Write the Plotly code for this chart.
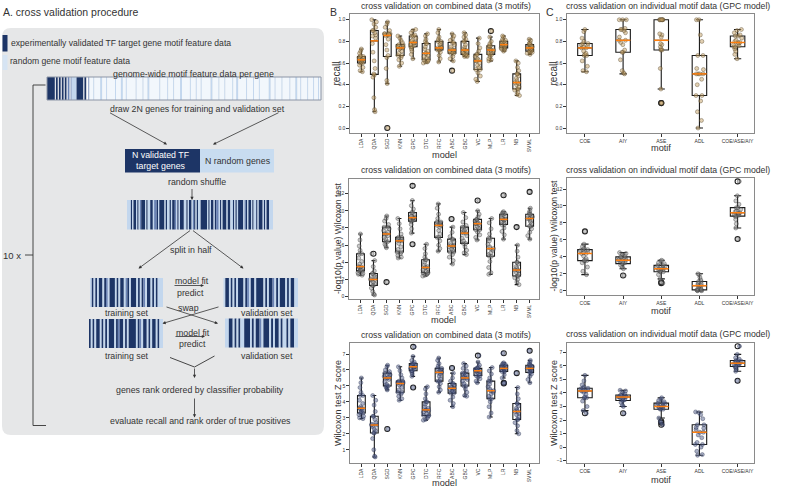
import plotly.graph_objects as go
import numpy as np

W, H = 787, 503
def X(p): return p / W
def Y(p): return 1 - p / H

FONT = "Liberation Sans, Arial, sans-serif"
TXT = "#333333"

# ---------------- data ----------------
models = ["LDA", "QDA", "SGD", "KNN", "GPC", "DTC", "RFC", "ABC", "GBC", "VC", "MLP", "LR", "NB", "SVML"]
motifs = ["COE", "AIY", "ASE", "ADL", "COE/ASE/AIY"]

recall_models = [
    [0.52,0.53,0.56,0.58,0.60,0.60,0.61,0.62,0.62,0.63,0.63,0.64,0.64,0.65,0.66,0.66,0.67,0.69,0.71,0.73],
    [0.15,0.17,0.28,0.47,0.49,0.50,0.55,0.62,0.70,0.78,0.83,0.85,0.86,0.88,0.90,0.90,0.93,0.96,0.98,1.00],
    [0.00,0.41,0.44,0.55,0.65,0.67,0.72,0.77,0.82,0.85,0.86,0.86,0.87,0.87,0.87,0.87,0.90,0.93,0.96,0.98],
    [0.57,0.60,0.63,0.65,0.67,0.67,0.69,0.71,0.73,0.74,0.74,0.75,0.75,0.76,0.77,0.77,0.79,0.81,0.83,0.85],
    [0.64,0.68,0.71,0.73,0.75,0.75,0.76,0.77,0.78,0.79,0.79,0.80,0.81,0.83,0.85,0.85,0.86,0.88,0.90,0.91],
    [0.60,0.61,0.61,0.62,0.63,0.63,0.65,0.66,0.67,0.69,0.69,0.71,0.73,0.75,0.78,0.78,0.80,0.82,0.85,0.87],
    [0.61,0.64,0.67,0.70,0.72,0.72,0.73,0.73,0.74,0.74,0.74,0.75,0.77,0.78,0.80,0.80,0.82,0.84,0.88,0.91],
    [0.53,0.62,0.64,0.66,0.69,0.69,0.70,0.70,0.71,0.72,0.72,0.73,0.75,0.77,0.79,0.79,0.81,0.83,0.85,0.87],
    [0.66,0.66,0.67,0.67,0.68,0.68,0.69,0.70,0.71,0.72,0.72,0.73,0.75,0.77,0.80,0.80,0.82,0.84,0.86,0.88],
    [0.43,0.45,0.48,0.51,0.54,0.54,0.56,0.58,0.60,0.62,0.62,0.63,0.64,0.66,0.68,0.68,0.71,0.74,0.78,0.83],
    [0.62,0.63,0.64,0.66,0.68,0.68,0.69,0.70,0.71,0.72,0.72,0.73,0.74,0.75,0.76,0.76,0.78,0.80,0.84,0.895],
    [0.71,0.72,0.73,0.73,0.74,0.74,0.75,0.76,0.76,0.77,0.77,0.77,0.78,0.79,0.80,0.80,0.81,0.82,0.84,0.85],
    [0.30,0.31,0.33,0.35,0.36,0.36,0.38,0.40,0.41,0.42,0.42,0.44,0.46,0.48,0.50,0.50,0.53,0.56,0.60,0.62],
    [0.68,0.69,0.70,0.70,0.71,0.71,0.72,0.73,0.73,0.74,0.74,0.75,0.75,0.76,0.77,0.77,0.78,0.79,0.81,0.82],
]

logp_models = [
    [2.5,2.6,2.7,2.8,3.0,3.0,3.1,3.2,3.4,3.5,3.5,3.8,4.1,4.5,5.0,5.0,5.4,5.9,6.6,7.3],
    [0.2,0.3,0.6,1.0,1.3,1.3,1.5,1.7,1.9,2.0,2.0,2.1,2.3,2.5,2.7,2.7,3.0,3.5,4.2,5.0],
    [1.7,5.7,5.9,6.1,6.4,6.4,6.7,6.9,7.1,7.3,7.3,7.5,7.7,7.9,8.1,8.1,8.4,8.8,9.1,9.4],
    [4.5,4.6,4.8,5.0,5.2,5.2,5.5,5.8,6.2,6.5,6.5,6.6,6.7,6.8,6.9,6.9,7.3,7.9,8.5,9.1],
    [6.1,7.4,7.9,8.4,8.8,8.8,8.9,9.0,9.1,9.2,9.2,9.3,9.4,9.6,9.8,9.8,10.2,10.6,11.2,12.9],
    [2.4,2.5,2.6,2.7,2.8,2.8,2.9,3.1,3.3,3.4,3.4,3.5,3.7,4.0,4.3,4.3,4.6,5.0,5.6,6.1],
    [5.3,5.6,6.0,6.5,6.9,6.9,7.3,7.7,8.1,8.3,8.3,8.4,8.5,8.6,8.7,8.7,9.1,9.6,10.3,10.8],
    [3.8,4.2,4.6,4.9,5.2,5.2,5.4,5.6,5.8,5.9,5.9,6.0,6.2,6.4,6.7,6.7,7.0,7.5,8.1,9.05],
    [4.9,5.1,5.4,5.8,6.2,6.2,6.5,6.8,7.1,7.4,7.4,7.5,7.7,7.9,8.1,8.1,8.3,8.7,9.2,9.8],
    [6.6,6.9,7.2,7.5,7.8,7.8,8.0,8.2,8.4,8.5,8.5,8.6,8.7,8.8,9.0,9.0,9.3,9.6,10.0,11.2],
    [2.6,2.8,3.4,4.1,4.7,4.7,4.9,5.1,5.4,5.6,5.6,5.8,6.1,6.5,6.8,6.8,7.3,7.9,8.6,9.1],
    [6.7,7.2,7.6,8.0,8.4,8.4,8.6,8.7,8.9,9.0,9.0,9.1,9.2,9.4,9.6,9.6,9.7,9.8,9.9,11.8],
    [1.4,1.7,2.0,2.2,2.4,2.4,2.6,2.8,3.0,3.1,3.1,3.3,3.5,3.8,4.0,4.0,4.6,5.3,6.0,8.1],
    [6.7,7.1,7.5,7.9,8.2,8.2,8.5,8.7,8.9,9.1,9.1,9.2,9.3,9.4,9.6,9.6,9.8,10.0,10.3,12.2],
]

zscore_models = [
    [2.95,3.0,3.1,3.2,3.3,3.3,3.4,3.5,3.55,3.6,3.6,3.7,3.9,4.1,4.4,4.4,4.6,4.9,5.2,5.5],
    [0.55,0.6,1.0,1.7,2.05,2.05,2.2,2.3,2.45,2.55,2.55,2.6,2.7,2.9,3.1,3.1,3.4,3.8,4.1,4.4],
    [2.3,4.75,4.85,4.95,5.0,5.0,5.1,5.25,5.4,5.5,5.5,5.55,5.6,5.7,5.8,5.8,5.9,6.0,6.2,6.3],
    [4.1,4.2,4.35,4.5,4.6,4.6,4.75,4.9,5.05,5.15,5.15,5.2,5.22,5.25,5.3,5.3,5.5,5.7,5.95,6.2],
    [4.9,5.6,5.75,5.85,5.95,5.95,6.05,6.1,6.15,6.2,6.2,6.25,6.3,6.35,6.4,6.4,6.5,6.6,6.85,7.45],
    [2.85,2.9,3.0,3.1,3.15,3.15,3.25,3.35,3.45,3.5,3.5,3.6,3.7,3.85,4.0,4.0,4.2,4.5,4.8,4.95],
    [4.6,4.75,4.95,5.15,5.3,5.3,5.45,5.6,5.75,5.85,5.85,5.9,5.95,6.0,6.1,6.1,6.25,6.4,6.6,6.75],
    [3.7,3.9,4.1,4.3,4.55,4.55,4.65,4.72,4.8,4.85,4.85,4.9,4.95,5.05,5.15,5.15,5.3,5.5,5.8,6.12],
    [4.35,4.4,4.6,4.8,5.0,5.0,5.15,5.3,5.4,5.5,5.5,5.55,5.6,5.7,5.8,5.8,5.95,6.1,6.25,6.4],
    [5.2,5.3,5.45,5.55,5.65,5.65,5.75,5.85,5.9,5.95,5.95,6.0,6.02,6.05,6.1,6.1,6.2,6.3,6.5,6.9],
    [3.05,3.3,3.7,4.0,4.2,4.2,4.35,4.5,4.6,4.7,4.7,4.8,4.95,5.1,5.3,5.3,5.5,5.75,5.95,6.15],
    [5.15,5.2,5.5,5.7,5.9,5.9,5.95,6.0,6.05,6.1,6.1,6.15,6.2,6.25,6.3,6.3,6.35,6.4,6.45,7.05],
    [2.0,2.2,2.5,2.7,2.9,2.9,3.05,3.2,3.3,3.4,3.4,3.5,3.6,3.75,3.9,3.9,4.2,4.5,4.9,5.8],
    [5.2,5.4,5.6,5.75,5.85,5.85,5.95,6.0,6.05,6.1,6.1,6.15,6.2,6.25,6.3,6.3,6.4,6.5,6.6,7.2],
]

recall_motifs = [
    [0.52,0.53,0.57,0.62,0.67,0.67,0.68,0.69,0.71,0.74,0.74,0.75,0.76,0.77,0.78,0.78,0.80,0.83,0.89,0.91],
    [0.50,0.51,0.53,0.63,0.70,0.70,0.72,0.77,0.79,0.81,0.81,0.84,0.88,0.90,0.91,0.91,0.92,1.0,1.0,1.0],
    [0.23,0.23,0.36,0.55,0.72,0.72,0.73,0.75,0.77,0.78,0.84,0.86,0.87,1.0,1.0,1.0,1.0,1.0,1.0,1.0],
    [0.0,0.07,0.15,0.25,0.30,0.30,0.40,0.45,0.50,0.50,0.50,0.50,0.54,0.55,0.67,0.67,0.80,0.86,1.0,1.0],
    [0.64,0.68,0.71,0.73,0.75,0.75,0.76,0.77,0.78,0.79,0.79,0.80,0.81,0.83,0.85,0.85,0.86,0.88,0.90,0.91],
]

logp_motifs = [
    [1.9,2.3,2.8,3.3,3.55,3.55,3.6,3.8,4.1,4.4,4.4,4.5,4.6,4.75,4.85,4.85,5.0,5.2,5.5,7.0],
    [1.8,2.6,2.8,3.0,3.2,3.2,3.3,3.4,3.5,3.6,3.6,3.7,3.8,3.9,4.0,4.0,4.1,4.3,4.4,4.5],
    [0.9,1.0,1.4,1.9,2.25,2.25,2.35,2.45,2.55,2.6,2.6,2.7,2.8,2.9,3.0,3.0,3.2,3.3,3.5,3.6],
    [0.0,0.0,0.05,0.08,0.1,0.1,0.2,0.3,0.45,0.6,0.6,0.7,0.8,0.9,1.1,1.1,1.3,1.6,1.9,2.0],
    [6.1,7.4,7.9,8.4,8.8,8.8,8.9,9.0,9.1,9.2,9.2,9.3,9.4,9.6,9.8,9.8,10.2,10.6,11.2,12.9],
]

zscore_motifs = [
    [2.5,2.7,3.0,3.4,3.65,3.65,3.7,3.9,4.05,4.15,4.15,4.2,4.25,4.3,4.35,4.35,4.45,4.6,4.9,5.3],
    [2.5,3.0,3.1,3.3,3.45,3.45,3.5,3.6,3.65,3.7,3.7,3.72,3.75,3.8,3.85,3.85,3.95,4.05,4.15,4.2],
    [1.65,1.8,1.9,2.15,2.8,2.8,2.85,2.9,2.95,3.0,3.0,3.05,3.1,3.2,3.25,3.25,3.35,3.45,3.55,3.65],
    [-0.6,-0.55,-0.3,0.0,0.2,0.2,0.35,0.7,0.9,1.1,1.1,1.3,1.4,1.45,1.65,1.65,2.1,2.4,2.55,2.6],
    [4.9,5.6,5.75,5.85,5.95,5.95,6.05,6.1,6.15,6.2,6.2,6.25,6.3,6.35,6.4,6.4,6.5,6.6,6.85,7.45],
]

TITLE_B = "cross validation on combined data (3 motifs)"
TITLE_C = "cross validation on individual motif data (GPC model)"

# ---------------- box plot panels ----------------
PT_TAN = dict(color="rgba(196,160,100,0.5)", line=dict(color="rgba(70,55,30,0.6)", width=0.6))
PT_GRAY = dict(color="rgba(140,140,140,0.45)", line=dict(color="rgba(40,40,40,0.6)", width=0.6))
PT_BLUE = dict(color="rgba(85,98,140,0.5)", line=dict(color="rgba(30,38,70,0.6)", width=0.6))

panels = [
    dict(frame=(350, 14, 539, 133), cats=models, data=recall_models, yr=[-0.046, 1.053], dtick=0.2, fmt=".1f",
         pt=PT_TAN, title=TITLE_B, tx=446, ty=6, ylab="recall", ylx=336, xlab="model", xly=155, rot=-90, bw=0.6, jit=0.8, ysz=10),
    dict(frame=(349, 179, 539, 299), cats=models, data=logp_models, yr=[-0.27, 13.7], dtick=2, fmt="d",
         pt=PT_GRAY, title=TITLE_B, tx=446, ty=170, ylab="-log10(p value) Wilcoxon test", ylx=338, xlab="model", xly=320, rot=-90, bw=0.6, jit=0.8, ysz=8.6),
    dict(frame=(350, 343, 539, 463), cats=models, data=zscore_models, yr=[0.17, 7.69], dtick=1, fmt="d",
         pt=PT_BLUE, title=TITLE_B, tx=446, ty=335, ylab="Wilcoxon test Z score", ylx=338, xlab="model", xly=483, rot=-90, bw=0.6, jit=0.8, ysz=9),
    dict(frame=(567, 14, 754, 133), cats=motifs, data=recall_motifs, yr=[-0.046, 1.053], dtick=0.2, fmt=".1f",
         pt=PT_TAN, title=TITLE_C, tx=668, ty=6, ylab="recall", ylx=553, xlab="motif", xly=148.5, rot=0, bw=0.38, jit=0.65, ysz=10),
    dict(frame=(567, 178, 754, 295), cats=motifs, data=logp_motifs, yr=[-0.5, 13.3], dtick=2, fmt="d",
         pt=PT_GRAY, title=TITLE_C, tx=668, ty=170, ylab="-log10(p value) Wilcoxon test", ylx=554, xlab="motif", xly=310.5, rot=0, bw=0.38, jit=0.65, ysz=8.6),
    dict(frame=(567, 343, 754, 463), cats=motifs, data=zscore_motifs, yr=[-1.17, 7.69], dtick=1, fmt="d",
         pt=PT_BLUE, title=TITLE_C, tx=668, ty=334, ylab="Wilcoxon test Z score", ylx=554, xlab="motif", xly=480, rot=0, bw=0.38, jit=0.65, ysz=9),
]

fig = go.Figure()
annotations = []
shapes = []
layout_axes = {}

for i, p in enumerate(panels, start=1):
    s = "" if i == 1 else str(i)
    x0, y0, x1, y1 = p["frame"]
    n = len(p["cats"])
    xr = [-0.88, 13.72] if n == 14 else [-0.47, 4.43]
    layout_axes["xaxis" + s] = dict(
        domain=[X(x0), X(x1)], range=xr, anchor="y" + s,
        tickvals=list(range(n)), ticktext=p["cats"], tickangle=p["rot"],
        tickfont=dict(size=5, color=TXT, family=FONT), ticks="outside", ticklen=2.5, tickwidth=0.8,
        tickcolor=TXT, showline=True, mirror=True, linecolor="#8a8a8a", linewidth=1.2,
        showgrid=False, zeroline=False, automargin=False, fixedrange=True)
    layout_axes["yaxis" + s] = dict(
        domain=[Y(y1), Y(y0)], range=p["yr"], anchor="x" + s, dtick=p["dtick"], tick0=0,
        tickformat=p["fmt"], tickfont=dict(size=5, color=TXT, family=FONT), ticks="outside",
        ticklen=2.5, tickwidth=0.8, tickcolor=TXT, showline=True, mirror=True, linecolor="#8a8a8a",
        linewidth=1.2, showgrid=False, zeroline=False, automargin=False, fixedrange=True)

    xs, ys = [], []
    for k, vals in enumerate(p["data"]):
        xs += [k] * len(vals)
        ys += vals
    xa, ya = "x" + s, "y" + s
    fig.add_trace(go.Box(
        x=xs, y=ys, xaxis=xa, yaxis=ya, width=p["bw"], boxpoints="outliers",
        line=dict(color="#1a1a1a", width=1.1), fillcolor="rgba(0,0,0,0)", whiskerwidth=0.5,
        marker=dict(symbol="circle-open", size=5, color="#222222", line=dict(width=1.1)),
        showlegend=False, hoverinfo="skip"))
    fig.add_trace(go.Box(
        x=xs, y=ys, xaxis=xa, yaxis=ya, width=p["bw"], boxpoints="all", jitter=p["jit"], pointpos=0,
        line=dict(color="rgba(0,0,0,0)", width=0), fillcolor="rgba(0,0,0,0)",
        marker=dict(size=4, **p["pt"]), showlegend=False, hoverinfo="skip"))
    mx, my = [], []
    for k, vals in enumerate(p["data"]):
        m = float(np.median(vals))
        mx += [k - p["bw"] / 2, k + p["bw"] / 2, None]
        my += [m, m, None]
    fig.add_trace(go.Scatter(x=mx, y=my, xaxis=xa, yaxis=ya, mode="lines",
                             line=dict(color="#ff7f0e", width=1.5), showlegend=False, hoverinfo="skip"))

    annotations.append(dict(text=p["title"], x=X(p["tx"]), y=Y(p["ty"]), xref="paper", yref="paper",
                            showarrow=False, xanchor="center", yanchor="middle",
                            font=dict(size=8.7, color=TXT, family=FONT)))
    annotations.append(dict(text=p["ylab"], x=X(p["ylx"]), y=Y((y0 + y1) / 2), xref="paper", yref="paper",
                            showarrow=False, textangle=-90, xanchor="center", yanchor="middle",
                            font=dict(size=p["ysz"], color=TXT, family=FONT)))
    annotations.append(dict(text=p["xlab"], x=X((x0 + x1) / 2), y=Y(p["xly"]), xref="paper", yref="paper",
                            showarrow=False, xanchor="center", yanchor="middle",
                            font=dict(size=9.2, color=TXT, family=FONT)))

# ---------------- panel A diagram ----------------
DARK = "#1d3566"
MED = "#6a83b5"
LIGHT = "#c3d7ee"
BG = "#f2f7fc"
COL = {"D": DARK, "M": MED, "L": LIGHT, ".": BG, "W": "#ffffff"}

def rect(x0, y0, x1, y1, color, line=None):
    d = dict(type="rect", xref="paper", yref="paper", x0=X(x0), x1=X(x1), y0=Y(y1), y1=Y(y0),
             fillcolor=color, line=dict(width=0))
    if line:
        d["line"] = line
        d["fillcolor"] = "rgba(0,0,0,0)"
    shapes.append(d)

def line(x0, y0, x1, y1, color="#333333", width=0.9):
    shapes.append(dict(type="line", xref="paper", yref="paper", x0=X(x0), y0=Y(y0), x1=X(x1), y1=Y(y1),
                       line=dict(color=color, width=width)))

def arrow(x0, y0, x1, y1):
    annotations.append(dict(x=X(x1), y=Y(y1), xref="paper", yref="paper", ax=x0 - x1, ay=y0 - y1,
                            text="", showarrow=True, arrowhead=2, arrowsize=0.8, arrowwidth=0.8,
                            arrowcolor="#333333", standoff=0))

def text(t, x, y, size=9, color=TXT, anchor="center"):
    annotations.append(dict(text=t, x=X(x), y=Y(y), xref="paper", yref="paper", showarrow=False,
                            xanchor=anchor, yanchor="middle", font=dict(size=size, color=color, family=FONT)))

def bar(x0, y0, x1, y1, runs):
    items = [(r[0], float(r[1:])) for r in runs.split()]
    total = sum(w for _, w in items)
    u = (x1 - x0) / total
    cx = x0
    for c, w in items:
        rect(cx, y0, cx + w * u, y1, COL[c])
        cx += w * u

def rrect_path(x0, y0, x1, y1, r):
    return (f"M {X(x0+r)},{Y(y0)} L {X(x1-r)},{Y(y0)} Q {X(x1)},{Y(y0)} {X(x1)},{Y(y0+r)} "
            f"L {X(x1)},{Y(y1-r)} Q {X(x1)},{Y(y1)} {X(x1-r)},{Y(y1)} "
            f"L {X(x0+r)},{Y(y1)} Q {X(x0)},{Y(y1)} {X(x0)},{Y(y1-r)} "
            f"L {X(x0)},{Y(y0+r)} Q {X(x0)},{Y(y0)} {X(x0+r)},{Y(y0)} Z")

shapes.append(dict(type="path", xref="paper", yref="paper", path=rrect_path(2, 28, 324, 435, 9),
                   fillcolor="#e6e7e8", line=dict(width=0)))

text("A. cross validation procedure", 0.5, 12, size=10.5, anchor="left")
text("B", 333, 12, size=10.5)
text("C", 550, 12, size=10.5)

rect(2.5, 35, 7.5, 51.5, DARK)
text("experimentally validated TF target gene motif feature data", 9, 42.5, size=8.6, anchor="left")
rect(2.5, 55, 7.5, 70, "#d6e4f3")
text("random gene motif feature data", 7.5, 60.5, size=8.6, anchor="left")

text("genome-wide motif feature data per gene", 193, 74, size=8.8)
big_runs = ("D8 W1 D2 W1 D2 W1 D2 W1 D2 W1 M2 W1 M1 L5 D7 W1 D2 W2 M1 "
            ".4 L1 .6 L2 .4 L1 .8 L1 .5 L2 .3 L1 .9 L1 .6 L1 .4 L2 .10 L1 .7 L1 .5 L1 .6 L2 .8 L1 "
            ".5 L1 .4 L1 .9 L2 .6 L1 .5 L1 .7 L1 .3 L2 .8 L1 .6 L1 .5 L1 .9 L2 .4 L1 .6 L1 .7 L1 "
            ".5 L2 .3 L1 .6 L1 .5 L1 .4 L1 .2")
bar(47, 77, 321, 100, big_runs)
rect(47, 77, 321, 100, None, line=dict(color="#8c95a6", width=1))

line(45.5, 85, 33, 85)
line(33, 85, 33, 425.5)
line(33, 425.5, 46, 425.5)
line(25, 255, 33, 255)
text("10 x", 11.5, 255, size=9.5)

text("draw 2N genes for training and validation set", 197, 108.5, size=8.8)
arrow(108.5, 112, 167, 144.5)
arrow(280, 112, 213, 144.5)

rect(125, 149, 200, 172.5, DARK)
rect(200, 149, 274, 172.5, "#c8dcf0")
text("N validated TF<br>target genes", 130, 160.5, size=8.8, color="#ffffff", anchor="left")
text("N random genes", 238, 161.5, size=8.8)

text("random shuffle", 197, 182, size=8.8)
arrow(192, 187.5, 192, 200)

shuffle_runs = ("L3 D1 L1 D2 L1 D1 L1 M1 D3 L1 D1 L2 D2 L1 M2 D1 L1 D4 L1 D1 L2 D1 L1 D2 M1 L1 D1 L1 D3 L2 "
                "D1 L1 D2 L1 M1 D1 L1 D1 L2 D5 L1 D1 L1 D2 L1 D1 M2 L1 D1 L1 D3 L1 D2 L2 D1 L1 D1 L1 D4 L1 "
                "M1 D1 L1 D2 L1 D1 L2 D1 L1 D3 L1 D1 L1 D2 L3")
bar(127, 200, 273, 229.5, shuffle_runs)

arrow(191.5, 229.5, 138.5, 268.5)
arrow(191.5, 229.5, 243.5, 268.5)
text("split in half", 190.5, 250, size=8.8)

train1 = "L1 D1 L1 D1 L1 D2 L1 D1 M1 L1 D3 L1 D1 L1 D2 L1 M1 D1 L1 D3 L1 D1 L1 D1 M1 L1 D2 L1 D1 L1 D1 L3"
val1 = "L1 D2 L1 D1 L1 D1 L1 D3 L1 D1 M1 L1 D2 L1 D4 L1 D1 L1 D2 M1 L1 D1 L1 D3 L1 D1 L1 D2 L2"
train2 = "D1 L1 D1 L1 D2 L1 D1 L1 D1 L1 D3 L1 D1 M1 D2 L1 D1 L1 D4 L1 D1 M1 L1 D2 L1 D1 L1 D2 L1 D1 L2"
val2 = "L2 D2 L1 D1 L1 D1 L2 D3 L1 D1 L1 D2 M1 L1 D3 L1 D1 L1 D2 L1 D1 L2 D1 L1 D2 L2"
bar(90, 278, 163, 307, train1)
bar(223.5, 278, 298, 307, val1)
bar(89, 319, 163, 348, train2)
bar(225, 318.5, 298, 347.5, val2)

text("model fit", 192, 281, size=8.8)
arrow(173, 285.5, 204, 285.5)
text("predict", 190, 292.5, size=8.8)
text("training set", 127, 312.5, size=8.8)
text("validation set", 267, 312.5, size=8.8)
text("swap", 188, 308, size=8.8)
arrow(165, 306.5, 218, 323.5)
arrow(220, 306.5, 162.5, 323.5)

text("model fit", 193, 332.5, size=8.8)
arrow(174, 336.5, 205, 336.5)
text("predict", 192, 344, size=8.8)
text("training set", 127, 355.5, size=8.8)
text("validation set", 267, 355.5, size=8.8)

line(170, 357.5, 194.5, 367)
line(194.5, 367, 214.5, 356)
arrow(194.5, 367, 194.5, 378)
text("genes rank ordered by classifier probability", 200, 390, size=8.8)
arrow(194.5, 397, 194.5, 417.5)
text("evaluate recall and rank order of true positives", 200, 421, size=8.8)

fig.update_layout(
    width=W, height=H, margin=dict(l=0, r=0, t=0, b=0),
    paper_bgcolor="white", plot_bgcolor="white", boxmode="overlay",
    font=dict(family=FONT, color=TXT), showlegend=False,
    annotations=annotations, shapes=shapes, **layout_axes)

fig.write_html("out.html", config={"displayModeBar": False},
               post_script="document.body.style.margin='0';document.body.style.padding='0';")
